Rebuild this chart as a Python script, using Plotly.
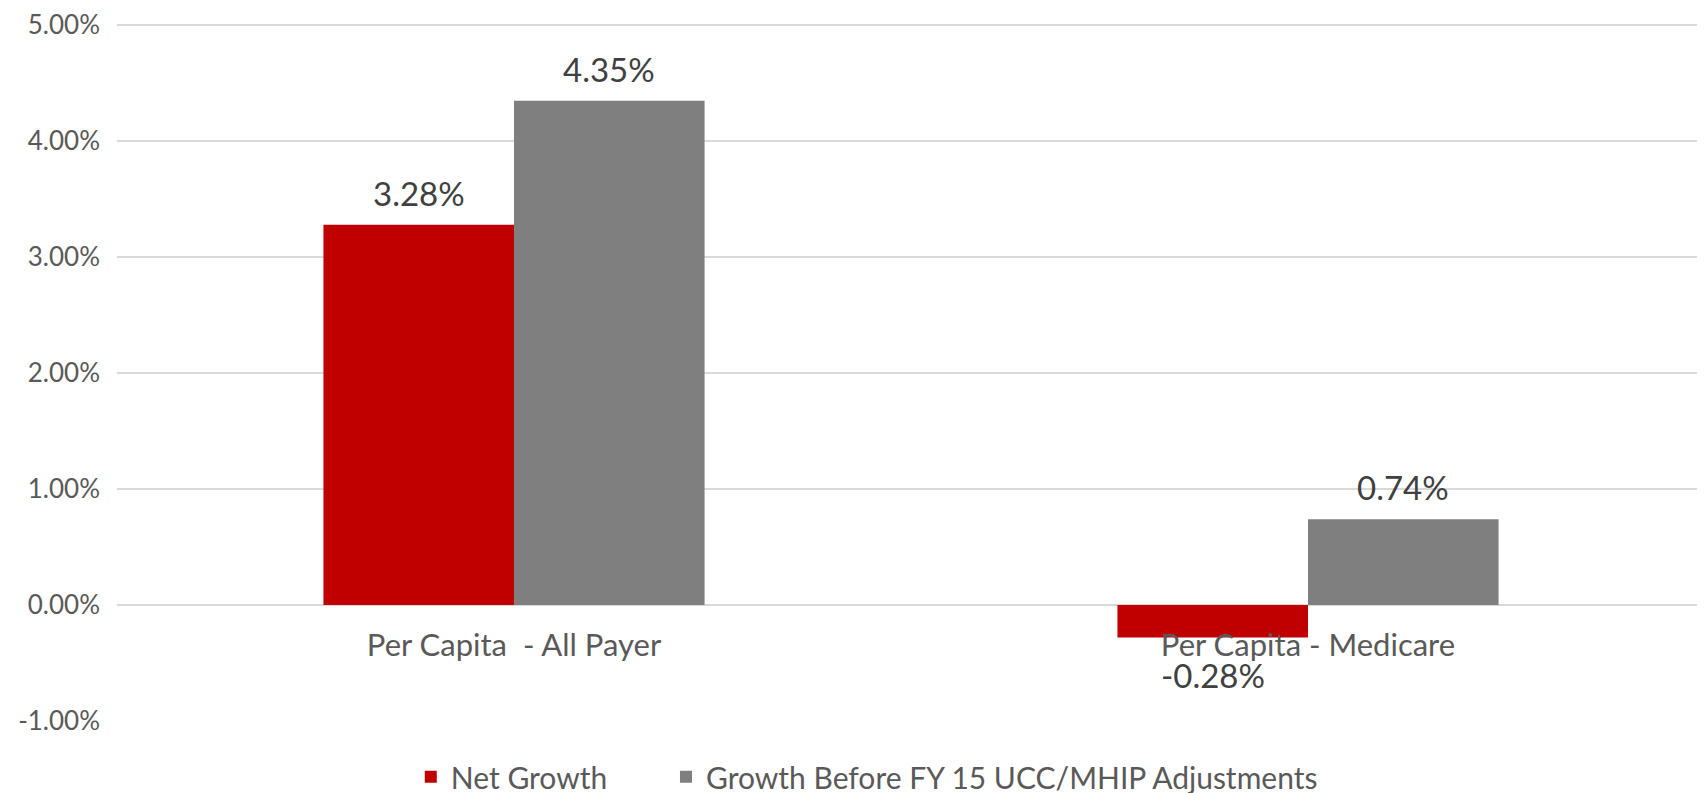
import plotly.graph_objects as go

categories = ['Per Capita  - All Payer', 'Per Capita - Medicare']
net_growth = [3.28, -0.28]
growth_before_adj = [4.35, 0.74]
series_names = ['Net Growth', 'Growth Before FY 15 UCC/MHIP Adjustments']
series_colors = ['#C00000', '#7F7F7F']
y_ticks = [-1, 0, 1, 2, 3, 4, 5]

FONT = 'Lato'
BARGAP = 0.52

fig = go.Figure()
for k, (name, vals, color) in enumerate(zip(series_names, [net_growth, growth_before_adj], series_colors)):
    # espaço extra depois do primeiro item da legenda
    label = name + '\u00a0' * 7 if k == 0 else name
    fig.add_trace(go.Bar(
        x=categories,
        y=vals,
        name=label,
        marker_color=color,
        marker_line_width=0,
    ))

# etiquetas de dados, deslocadas para o centro de cada barra
half = (1 - BARGAP) / 4
for k, vals in enumerate([net_growth, growth_before_adj]):
    offset = -half if k == 0 else half
    for i, v in enumerate(vals):
        fig.add_annotation(
            x=i + offset, y=v,
            text=f'{v:.2f}%',
            showarrow=False,
            yanchor='bottom' if v >= 0 else 'top',
            yshift=10 if v >= 0 else -15,
            font=dict(family=FONT, size=33, color='#404040'),
        )

fig.update_layout(
    width=1697,
    height=797,
    margin=dict(l=109, r=0, t=15, b=84),
    plot_bgcolor='white',
    paper_bgcolor='white',
    bargap=BARGAP,
    bargroupgap=0,
    font=dict(family=FONT, color='#595959'),
    showlegend=True,
    legend=dict(
        orientation='h',
        x=0.185, xanchor='left',
        y=-0.08, yanchor='middle',
        font=dict(family=FONT, size=30, color='#595959'),
    ),
)

fig.update_xaxes(
    anchor='free',
    position=1 / 6.02,
    showline=False,
    ticks='',
    showgrid=False,
    automargin=False,
    tickfont=dict(family=FONT, size=31, color='#595959'),
    ticklabelstandoff=19,
)

fig.update_yaxes(
    range=[-1, 5.02],
    tickvals=y_ticks,
    ticktext=[f'{t:.2f}%' for t in y_ticks],
    showgrid=True,
    gridcolor='#D9D9D9',
    gridwidth=1.5,
    zeroline=True,
    zerolinecolor='#D9D9D9',
    zerolinewidth=1.5,
    showline=False,
    automargin=False,
    ticklabeloverflow='allow',
    tickfont=dict(family=FONT, size=26, color='#595959'),
    ticklabelstandoff=16,
)

fig.write_html('out.html')
